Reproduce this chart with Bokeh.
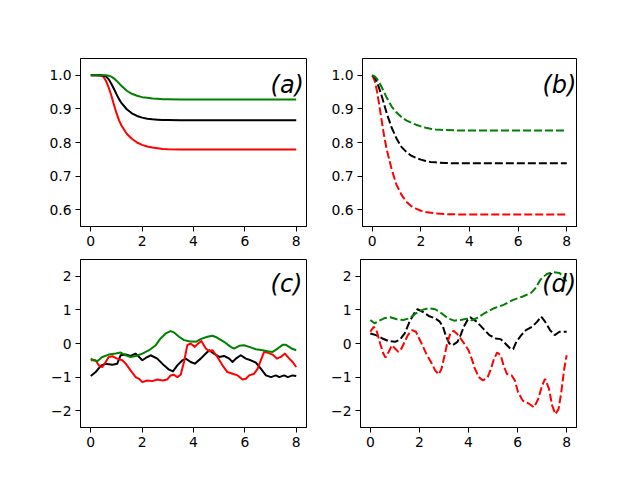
from bokeh.plotting import figure
from bokeh.models import Range1d, FixedTicker, PrintfTickFormatter, Label
from bokeh.layouts import column, row
from bokeh.embed import file_html
from bokeh.resources import INLINE

# ---------------- data ----------------
# panel (a): solid curves
xa = [0, 0.2, 0.4, 0.5, 0.6, 0.7, 0.8, 0.9, 1.0, 1.1, 1.2, 1.4, 1.6, 1.8, 2.0, 2.2, 2.4, 2.6, 2.8, 3.0, 3.5, 8.0]
a_red = [1.0, 1.0, 0.999, 0.995, 0.982, 0.963, 0.940, 0.913, 0.888, 0.866, 0.850, 0.826, 0.811, 0.800, 0.793, 0.788, 0.785, 0.783, 0.781, 0.780, 0.779, 0.779]
a_black = [1.0, 1.0, 1.0, 0.999, 0.996, 0.988, 0.975, 0.960, 0.944, 0.929, 0.917, 0.899, 0.887, 0.879, 0.874, 0.871, 0.869, 0.868, 0.867, 0.867, 0.866, 0.866]
a_green = [1.0, 1.0, 1.0, 1.0, 1.0, 0.999, 0.996, 0.991, 0.984, 0.976, 0.968, 0.954, 0.945, 0.939, 0.935, 0.933, 0.931, 0.930, 0.929, 0.929, 0.928, 0.928]

# panel (b): dashed curves
xb = [0, 0.1, 0.2, 0.3, 0.4, 0.5, 0.6, 0.8, 1.0, 1.2, 1.4, 1.6, 1.8, 2.0, 2.2, 2.4, 2.6, 2.8, 3.0, 3.5, 8.0]
b_red = [1.0, 0.984, 0.952, 0.906, 0.860, 0.815, 0.778, 0.720, 0.674, 0.645, 0.624, 0.611, 0.603, 0.597, 0.593, 0.591, 0.589, 0.588, 0.587, 0.586, 0.586]
b_black = [1.0, 0.995, 0.979, 0.958, 0.936, 0.911, 0.886, 0.844, 0.812, 0.787, 0.772, 0.761, 0.754, 0.749, 0.745, 0.742, 0.741, 0.740, 0.739, 0.738, 0.738]
b_green = [1.0, 0.997, 0.989, 0.977, 0.963, 0.948, 0.933, 0.907, 0.889, 0.876, 0.866, 0.859, 0.853, 0.848, 0.844, 0.841, 0.839, 0.838, 0.837, 0.836, 0.836]

# panel (c): solid noisy curves
xc_black = [0, 0.19, 0.38, 0.58, 0.84, 1.03, 1.16, 1.36, 1.55, 1.75, 2.01, 2.14, 2.33, 2.59, 2.85, 3.05, 3.2, 3.37, 3.57, 3.70, 3.89, 4.05, 4.28, 4.48, 4.61, 4.80, 5.0, 5.19, 5.39, 5.52, 5.65, 5.84, 6.04, 6.23, 6.43, 6.62, 6.82, 7.02, 7.21, 7.34, 7.53, 7.67, 7.86, 8.0]
c_black = [-0.97, -0.85, -0.67, -0.60, -0.63, -0.60, -0.35, -0.33, -0.37, -0.30, -0.50, -0.43, -0.35, -0.45, -0.65, -0.78, -0.83, -0.65, -0.50, -0.45, -0.55, -0.60, -0.45, -0.30, -0.20, -0.30, -0.40, -0.37, -0.45, -0.55, -0.45, -0.35, -0.45, -0.50, -0.57, -0.75, -0.95, -1.0, -0.95, -1.0, -0.95, -1.0, -0.95, -0.97]
xc_red = [0, 0.19, 0.31, 0.45, 0.58, 0.70, 0.84, 1.03, 1.23, 1.36, 1.55, 1.75, 1.88, 2.01, 2.20, 2.40, 2.59, 2.79, 2.98, 3.11, 3.24, 3.37, 3.50, 3.63, 3.76, 3.89, 4.05, 4.18, 4.31, 4.48, 4.61, 4.74, 4.93, 5.13, 5.32, 5.52, 5.72, 5.91, 6.04, 6.17, 6.36, 6.50, 6.62, 6.75, 6.88, 7.08, 7.25, 7.40, 7.56, 7.73, 7.86, 8.0]
c_red = [-0.50, -0.50, -0.65, -0.70, -0.55, -0.40, -0.38, -0.45, -0.50, -0.60, -0.80, -1.00, -1.05, -1.15, -1.10, -1.12, -1.07, -1.10, -1.07, -0.95, -0.93, -1.00, -0.93, -0.55, -0.05, 0.00, -0.10, 0.00, 0.07, -0.15, -0.23, -0.20, -0.40, -0.65, -0.85, -0.90, -0.95, -1.07, -1.05, -0.95, -0.90, -0.75, -0.50, -0.25, -0.27, -0.33, -0.45, -0.40, -0.30, -0.45, -0.55, -0.70]
xc_green = [0, 0.12, 0.25, 0.45, 0.70, 0.97, 1.16, 1.36, 1.55, 1.75, 2.01, 2.27, 2.53, 2.72, 2.92, 3.11, 3.24, 3.44, 3.63, 3.83, 4.09, 4.28, 4.54, 4.74, 4.93, 5.19, 5.45, 5.58, 5.78, 5.97, 6.17, 6.43, 6.69, 6.88, 7.08, 7.28, 7.47, 7.60, 7.80, 8.0]
c_green = [-0.45, -0.50, -0.53, -0.40, -0.33, -0.30, -0.27, -0.35, -0.40, -0.37, -0.30, -0.20, -0.05, 0.15, 0.30, 0.37, 0.33, 0.20, 0.10, 0.07, 0.05, 0.13, 0.20, 0.23, 0.17, 0.05, -0.10, -0.15, -0.07, -0.05, -0.10, -0.17, -0.20, -0.23, -0.25, -0.15, -0.04, -0.04, -0.14, -0.20]

# panel (d): dashed noisy curves
xd_green = [0, 0.17, 0.36, 0.56, 0.82, 1.08, 1.34, 1.60, 1.86, 2.12, 2.38, 2.64, 2.90, 3.16, 3.42, 3.68, 3.94, 4.13, 4.33, 4.65, 5.04, 5.43, 5.82, 6.21, 6.54, 6.73, 6.93, 7.19, 7.45, 7.71, 8.0]
d_green = [0.70, 0.60, 0.68, 0.75, 0.78, 0.72, 0.70, 0.75, 0.90, 1.00, 1.05, 1.02, 0.90, 0.75, 0.68, 0.70, 0.74, 0.69, 0.75, 0.90, 1.05, 1.15, 1.30, 1.40, 1.50, 1.65, 1.90, 2.07, 2.12, 2.10, 1.85]
xd_black = [0, 0.23, 0.49, 0.75, 1.01, 1.21, 1.40, 1.60, 1.79, 1.92, 2.12, 2.38, 2.64, 2.83, 2.96, 3.09, 3.22, 3.35, 3.55, 3.68, 3.81, 3.96, 4.07, 4.33, 4.59, 4.85, 5.11, 5.31, 5.50, 5.70, 5.82, 5.95, 6.15, 6.34, 6.60, 6.80, 6.96, 7.12, 7.32, 7.51, 7.71, 8.0]
d_black = [0.30, 0.25, 0.15, 0.07, 0.05, 0.12, 0.30, 0.65, 0.90, 1.02, 0.95, 0.82, 0.75, 0.65, 0.50, 0.20, 0.00, -0.05, 0.05, 0.25, 0.50, 0.70, 0.78, 0.65, 0.45, 0.25, 0.15, 0.13, 0.00, -0.15, -0.17, 0.05, 0.25, 0.40, 0.50, 0.65, 0.80, 0.65, 0.40, 0.25, 0.35, 0.35]
xd_red = [0, 0.14, 0.27, 0.40, 0.53, 0.62, 0.75, 0.88, 1.01, 1.14, 1.27, 1.40, 1.53, 1.70, 1.86, 1.99, 2.12, 2.31, 2.51, 2.64, 2.79, 2.90, 3.03, 3.13, 3.26, 3.39, 3.52, 3.68, 3.87, 4.0, 4.13, 4.26, 4.42, 4.59, 4.78, 4.92, 5.04, 5.17, 5.31, 5.43, 5.56, 5.76, 5.89, 6.02, 6.21, 6.48, 6.67, 6.84, 7.0, 7.12, 7.28, 7.41, 7.54, 7.67, 7.78, 7.90, 8.0]
d_red = [0.35, 0.50, 0.35, 0.00, -0.30, -0.42, -0.25, -0.05, -0.15, -0.25, -0.15, 0.05, 0.25, 0.40, 0.35, 0.15, -0.05, -0.35, -0.60, -0.80, -0.92, -0.75, -0.35, 0.00, 0.30, 0.38, 0.30, 0.15, -0.05, -0.20, -0.45, -0.75, -1.00, -1.10, -1.00, -0.75, -0.45, -0.27, -0.35, -0.65, -0.90, -0.95, -1.10, -1.45, -1.70, -1.80, -1.90, -1.65, -1.25, -1.05, -1.35, -1.85, -2.10, -1.95, -1.45, -0.75, -0.35]

x_ticks = [0, 2, 4, 6, 8]
top_y_ticks = [0.6, 0.7, 0.8, 0.9, 1.0]
bot_y_ticks = [-2, -1, 0, 1, 2]
bot_y_labels = {-2: "\u22122", -1: "\u22121", 0: "0", 1: "1", 2: "2"}
panel_labels = ["(a)", "(b)", "(c)", "(d)"]

RED = "#ff0000"
BLACK = "#000000"
GREEN = "#008000"
DASH = "8 3"
FONT = "DejaVu Sans"


def make_fig(width, height, ylim, bl, br, bt, bb):
    p = figure(width=width, height=height, x_range=Range1d(-0.4, 8.4),
               y_range=Range1d(*ylim), output_backend="svg",
               toolbar_location=None, tools="",
               min_border_left=bl, min_border_right=br,
               min_border_top=bt, min_border_bottom=bb)
    p.xgrid.visible = False
    p.ygrid.visible = False
    p.outline_line_color = "black"
    p.outline_line_width = 1
    p.background_fill_color = "white"
    p.border_fill_color = "white"
    for ax in (p.xaxis[0], p.yaxis[0]):
        ax.axis_line_color = "black"
        ax.axis_line_width = 1
        ax.major_tick_line_color = "black"
        ax.major_tick_line_width = 1
        ax.major_tick_in = 0
        ax.major_tick_out = 5
        ax.minor_tick_line_color = None
        ax.major_label_text_font = FONT
        ax.major_label_text_font_size = "13.9px"
        ax.major_label_text_color = "black"
        ax.major_label_standoff = 4
    p.xaxis.ticker = FixedTicker(ticks=x_ticks)
    return p


def add_label(p, text, x, y):
    p.add_layout(Label(x=x, y=y, text=text, text_font=FONT,
                       text_font_style="italic", text_font_size="24px",
                       text_baseline="alphabetic", text_align="left",
                       text_color="black"))


# top row
pa = make_fig(328, 254, (0.55, 1.05), 80, 22, 58, 28)
pb = make_fig(304, 254, (0.55, 1.05), 22, 56, 58, 28)
for p in (pa, pb):
    p.yaxis.ticker = FixedTicker(ticks=top_y_ticks)
    p.yaxis.formatter = PrintfTickFormatter(format="%.1f")

pa.line(xa, a_red, line_color=RED, line_width=2, line_join="round")
pa.line(xa, a_black, line_color=BLACK, line_width=2, line_join="round")
pa.line(xa, a_green, line_color=GREEN, line_width=2, line_join="round")
add_label(pa, panel_labels[0], 7.0, 0.97)

pb.line(xb, b_red, line_color=RED, line_width=2, line_dash=DASH)
pb.line(xb, b_black, line_color=BLACK, line_width=2, line_dash=DASH)
pb.line(xb, b_green, line_color=GREEN, line_width=2, line_dash=DASH)
add_label(pb, panel_labels[1], 7.0, 0.97)

# bottom row
pc = make_fig(328, 213, (-2.5, 2.5), 80, 22, 5, 40)
pd = make_fig(304, 213, (-2.5, 2.5), 22, 56, 5, 40)
for p in (pc, pd):
    p.yaxis.ticker = FixedTicker(ticks=bot_y_ticks)
    p.yaxis.major_label_overrides = bot_y_labels

pc.line(xc_black, c_black, line_color=BLACK, line_width=2, line_join="round")
pc.line(xc_red, c_red, line_color=RED, line_width=2, line_join="round")
pc.line(xc_green, c_green, line_color=GREEN, line_width=2, line_join="round")
add_label(pc, panel_labels[2], 7.0, 1.78)

pd.line(xd_black, d_black, line_color=BLACK, line_width=2, line_dash=DASH)
pd.line(xd_red, d_red, line_color=RED, line_width=2, line_dash=DASH)
pd.line(xd_green, d_green, line_color=GREEN, line_width=2, line_dash=DASH)
add_label(pd, panel_labels[3], 7.0, 1.78)

layout = column(row(pa, pb), row(pc, pd))

with open("out.html", "w") as f:
    f.write(file_html(layout, INLINE))
